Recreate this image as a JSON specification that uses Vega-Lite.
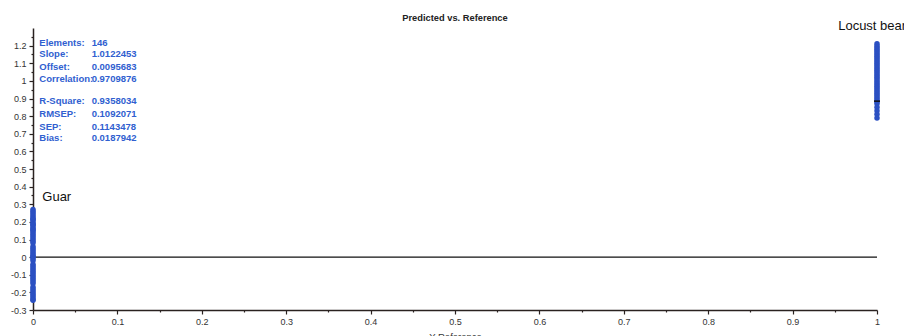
{
  "$schema": "https://vega.github.io/schema/vega-lite/v6.json",
  "width": 844,
  "height": 282,
  "autosize": {"type": "none"},
  "padding": {"left": 33, "top": 28, "right": 27, "bottom": 26},
  "background": "white",
  "config": {
    "view": {"stroke": null},
    "font": "Liberation Sans",
    "axis": {
      "labelFont": "Liberation Sans",
      "titleFont": "Liberation Sans",
      "domainColor": "#2a2220",
      "domainWidth": 1.5,
      "tickColor": "#2a2220",
      "tickWidth": 1.2,
      "labelColor": "#333333",
      "labelFontSize": 9,
      "grid": false
    }
  },
  "title": {
    "text": "Predicted vs. Reference",
    "fontSize": 9.3,
    "fontWeight": "bold",
    "font": "Liberation Sans",
    "color": "#222222",
    "offset": -4,
    "anchor": "middle"
  },
  "resolve": {"axis": {"x": "independent", "y": "independent"}},
  "layer": [
    {
      "data": {"values": [{"x": 0, "x2": 1, "y": 0}]},
      "mark": {"type": "rule", "color": "#111111", "strokeWidth": 1.2},
      "encoding": {
        "x": {
          "field": "x", "type": "quantitative",
          "scale": {"domain": [0, 1], "nice": false, "zero": false},
          "axis": {
            "title": null,
            "orient": "bottom",
            "domain": false,
            "labels": false,
            "tickSize": 2,
            "values": [0.05, 0.15, 0.25, 0.35, 0.45, 0.55, 0.65, 0.75, 0.85, 0.95]
          }
        },
        "x2": {"field": "x2"},
        "y": {
          "field": "y", "type": "quantitative",
          "scale": {"domain": [-0.3, 1.3], "nice": false, "zero": false},
          "axis": {
            "title": null,
            "orient": "left",
            "domain": false,
            "labels": false,
            "tickSize": 2,
            "values": [-0.25, -0.15, -0.05, 0.05, 0.15, 0.25, 0.35, 0.45, 0.55, 0.65, 0.75, 0.85, 0.95, 1.05, 1.15, 1.25]
          }
        }
      }
    },
    {
      "data": {
        "values": [
          {"x": 0, "y": 0.27}, {"x": 0, "y": 0.26}, {"x": 0, "y": 0.25}, {"x": 0, "y": 0.24}, {"x": 0, "y": 0.23},
          {"x": 0, "y": 0.22}, {"x": 0, "y": 0.215}, {"x": 0, "y": 0.21}, {"x": 0, "y": 0.2}, {"x": 0, "y": 0.19},
          {"x": 0, "y": 0.185}, {"x": 0, "y": 0.18}, {"x": 0, "y": 0.17}, {"x": 0, "y": 0.16}, {"x": 0, "y": 0.155},
          {"x": 0, "y": 0.15}, {"x": 0, "y": 0.14}, {"x": 0, "y": 0.13}, {"x": 0, "y": 0.12}, {"x": 0, "y": 0.11},
          {"x": 0, "y": 0.1}, {"x": 0, "y": 0.09}, {"x": 0, "y": 0.08}, {"x": 0, "y": 0.06}, {"x": 0, "y": 0.05},
          {"x": 0, "y": 0.04}, {"x": 0, "y": 0.03}, {"x": 0, "y": 0.02}, {"x": 0, "y": 0.01}, {"x": 0, "y": 0.005},
          {"x": 0, "y": 0.0}, {"x": 0, "y": -0.01}, {"x": 0, "y": -0.02}, {"x": 0, "y": -0.04}, {"x": 0, "y": -0.05},
          {"x": 0, "y": -0.06}, {"x": 0, "y": -0.07}, {"x": 0, "y": -0.08}, {"x": 0, "y": -0.09}, {"x": 0, "y": -0.1},
          {"x": 0, "y": -0.11}, {"x": 0, "y": -0.12}, {"x": 0, "y": -0.13}, {"x": 0, "y": -0.14}, {"x": 0, "y": -0.15},
          {"x": 0, "y": -0.17}, {"x": 0, "y": -0.18}, {"x": 0, "y": -0.19}, {"x": 0, "y": -0.2}, {"x": 0, "y": -0.21},
          {"x": 0, "y": -0.22}, {"x": 0, "y": -0.23}, {"x": 0, "y": -0.24}, {"x": 0, "y": -0.245},
          {"x": 1, "y": 1.21}, {"x": 1, "y": 1.2}, {"x": 1, "y": 1.19}, {"x": 1, "y": 1.18}, {"x": 1, "y": 1.17},
          {"x": 1, "y": 1.16}, {"x": 1, "y": 1.15}, {"x": 1, "y": 1.14}, {"x": 1, "y": 1.13}, {"x": 1, "y": 1.12},
          {"x": 1, "y": 1.11}, {"x": 1, "y": 1.1}, {"x": 1, "y": 1.09}, {"x": 1, "y": 1.08}, {"x": 1, "y": 1.07},
          {"x": 1, "y": 1.06}, {"x": 1, "y": 1.05}, {"x": 1, "y": 1.04}, {"x": 1, "y": 1.03}, {"x": 1, "y": 1.02},
          {"x": 1, "y": 1.01}, {"x": 1, "y": 1.0}, {"x": 1, "y": 0.99}, {"x": 1, "y": 0.98}, {"x": 1, "y": 0.97},
          {"x": 1, "y": 0.96}, {"x": 1, "y": 0.95}, {"x": 1, "y": 0.94}, {"x": 1, "y": 0.93}, {"x": 1, "y": 0.92},
          {"x": 1, "y": 0.91}, {"x": 1, "y": 0.9}, {"x": 1, "y": 0.89}, {"x": 1, "y": 0.88}, {"x": 1, "y": 0.87},
          {"x": 1, "y": 0.85}, {"x": 1, "y": 0.83}, {"x": 1, "y": 0.81}, {"x": 1, "y": 0.79}
        ]
      },
      "mark": {"type": "circle", "size": 30, "color": "#2b50c2", "opacity": 1},
      "encoding": {
        "x": {
          "field": "x", "type": "quantitative",
          "scale": {"domain": [0, 1], "nice": false, "zero": false},
          "axis": {
            "title": "Y Reference",
            "orient": "bottom",
            "titleFontSize": 9.5,
            "titleFontWeight": "normal",
            "titleColor": "#333333",
            "titlePadding": 5,
            "values": [0, 0.1, 0.2, 0.3, 0.4, 0.5, 0.6, 0.7, 0.8, 0.9, 1],
            "labelExpr": "toString(round(datum.value*10)/10)",
            "tickSize": 4,
            "labelPadding": 3,
            "labelFlush": false,
            "labelOverlap": false
          }
        },
        "y": {
          "field": "y", "type": "quantitative",
          "scale": {"domain": [-0.3, 1.3], "nice": false, "zero": false},
          "axis": {
            "title": null,
            "orient": "left",
            "values": [-0.3, -0.2, -0.1, 0, 0.1, 0.2, 0.3, 0.4, 0.5, 0.6, 0.7, 0.8, 0.9, 1, 1.1, 1.2],
            "labelExpr": "toString(round(datum.value*10)/10)",
            "tickSize": 4,
            "labelPadding": 3,
            "labelFlush": false,
            "labelOverlap": false
          }
        }
      }
    },
    {
      "data": {"values": [{"x": 1, "y": 0.885}]},
      "mark": {"type": "tick", "orient": "horizontal", "size": 6, "thickness": 1.5, "color": "#111111", "opacity": 1},
      "encoding": {
        "x": {"field": "x", "type": "quantitative", "axis": null},
        "y": {"field": "y", "type": "quantitative", "axis": null}
      }
    },
    {
      "data": {
        "values": [
          {"label": "Elements:", "value": "146", "lx": 0.0075, "vx": 0.0695, "y": 1.2165},
          {"label": "Slope:", "value": "1.0122453", "lx": 0.0075, "vx": 0.0695, "y": 1.1505},
          {"label": "Offset:", "value": "0.0095683", "lx": 0.0075, "vx": 0.0695, "y": 1.081},
          {"label": "Correlation:", "value": "0.9709876", "lx": 0.0075, "vx": 0.0695, "y": 1.008},
          {"label": "R-Square:", "value": "0.9358034", "lx": 0.0075, "vx": 0.0695, "y": 0.885},
          {"label": "RMSEP:", "value": "0.1092071", "lx": 0.0075, "vx": 0.0695, "y": 0.81},
          {"label": "SEP:", "value": "0.1143478", "lx": 0.0075, "vx": 0.0695, "y": 0.741},
          {"label": "Bias:", "value": "0.0187942", "lx": 0.0075, "vx": 0.0695, "y": 0.675}
        ]
      },
      "mark": {"type": "text", "align": "left", "baseline": "middle", "fontSize": 9.5, "fontWeight": "bold", "color": "#3060d0", "font": "Liberation Sans"},
      "encoding": {
        "x": {"field": "lx", "type": "quantitative", "axis": null},
        "y": {"field": "y", "type": "quantitative", "axis": null},
        "text": {"field": "label"}
      }
    },
    {
      "data": {
        "values": [
          {"label": "Elements:", "value": "146", "lx": 0.0075, "vx": 0.0695, "y": 1.2165},
          {"label": "Slope:", "value": "1.0122453", "lx": 0.0075, "vx": 0.0695, "y": 1.1505},
          {"label": "Offset:", "value": "0.0095683", "lx": 0.0075, "vx": 0.0695, "y": 1.081},
          {"label": "Correlation:", "value": "0.9709876", "lx": 0.0075, "vx": 0.0695, "y": 1.008},
          {"label": "R-Square:", "value": "0.9358034", "lx": 0.0075, "vx": 0.0695, "y": 0.885},
          {"label": "RMSEP:", "value": "0.1092071", "lx": 0.0075, "vx": 0.0695, "y": 0.81},
          {"label": "SEP:", "value": "0.1143478", "lx": 0.0075, "vx": 0.0695, "y": 0.741},
          {"label": "Bias:", "value": "0.0187942", "lx": 0.0075, "vx": 0.0695, "y": 0.675}
        ]
      },
      "mark": {"type": "text", "align": "left", "baseline": "middle", "fontSize": 9.5, "fontWeight": "bold", "color": "#3060d0", "font": "Liberation Sans"},
      "encoding": {
        "x": {"field": "vx", "type": "quantitative", "axis": null},
        "y": {"field": "y", "type": "quantitative", "axis": null},
        "text": {"field": "value"}
      }
    },
    {
      "data": {
        "values": [
          {"name": "Guar", "x": 0.011, "y": 0.34},
          {"name": "Locust bean", "x": 0.954, "y": 1.313}
        ]
      },
      "mark": {"type": "text", "align": "left", "baseline": "middle", "fontSize": 13, "color": "#111111", "font": "Liberation Sans"},
      "encoding": {
        "x": {"field": "x", "type": "quantitative", "axis": null},
        "y": {"field": "y", "type": "quantitative", "axis": null},
        "text": {"field": "name"}
      }
    }
  ]
}
